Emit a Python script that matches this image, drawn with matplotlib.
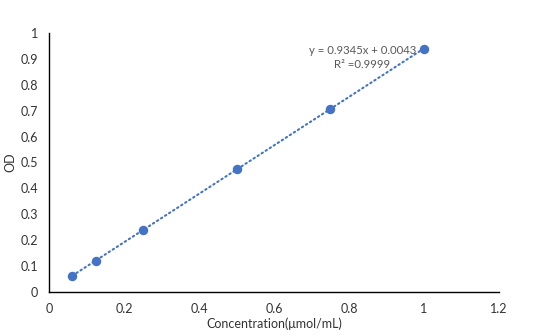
import numpy as np
import matplotlib
matplotlib.use('Agg')
import matplotlib.pyplot as plt

# standard curve: concentration vs optical density
conc = [0.0625, 0.125, 0.25, 0.5, 0.75, 1.0]
od = [0.063, 0.121, 0.239, 0.474, 0.706, 0.940]
x_ticks = [0, 0.2, 0.4, 0.6, 0.8, 1, 1.2]
y_ticks = [0, 0.1, 0.2, 0.3, 0.4, 0.5, 0.6, 0.7, 0.8, 0.9, 1]

plt.rcParams['font.family'] = ['Lato', 'DejaVu Sans']

blue = '#4472C4'

fig = plt.figure(figsize=(5.34, 3.35), dpi=100)
ax = fig.add_axes([0.0918, 0.1284, 0.8427, 0.7731])

# linear fit for the trendline
slope, icpt = np.polyfit(conc, od, 1)
xs = np.array([conc[0], conc[-1]])
ax.plot(xs, slope * xs + icpt, linestyle=(0, (0.7, 1.6)), color=blue,
        linewidth=1.5, dash_capstyle='round', zorder=2)
ax.plot(conc, od, 'o', color=blue, markersize=5.8, zorder=3)

ax.set_xlim(0, 1.2)
ax.set_ylim(0, 1)
ax.set_xticks(x_ticks)
ax.set_yticks(y_ticks)
ax.set_xticklabels([str(t) for t in x_ticks])
ax.set_yticklabels([str(t) for t in y_ticks])
ax.tick_params(length=0, labelsize=9, colors='#333333', pad=8)

for s in ['top', 'right']:
    ax.spines[s].set_visible(False)
for s in ['left', 'bottom']:
    ax.spines[s].set_color('black')
    ax.spines[s].set_linewidth(1.0)

ax.set_xlabel('Concentration(\u03bcmol/mL)', fontsize=9, color='#333333', labelpad=2)
ax.set_ylabel('OD', fontsize=9, color='#333333', labelpad=3)

ax.text(0.835, 0.905, 'y = 0.9345x + 0.0043\nR\u00b2 =0.9999', ha='center', va='center',
        fontsize=8.2, color='#595959', linespacing=1.25)

fig.savefig('out.png', dpi=100)
